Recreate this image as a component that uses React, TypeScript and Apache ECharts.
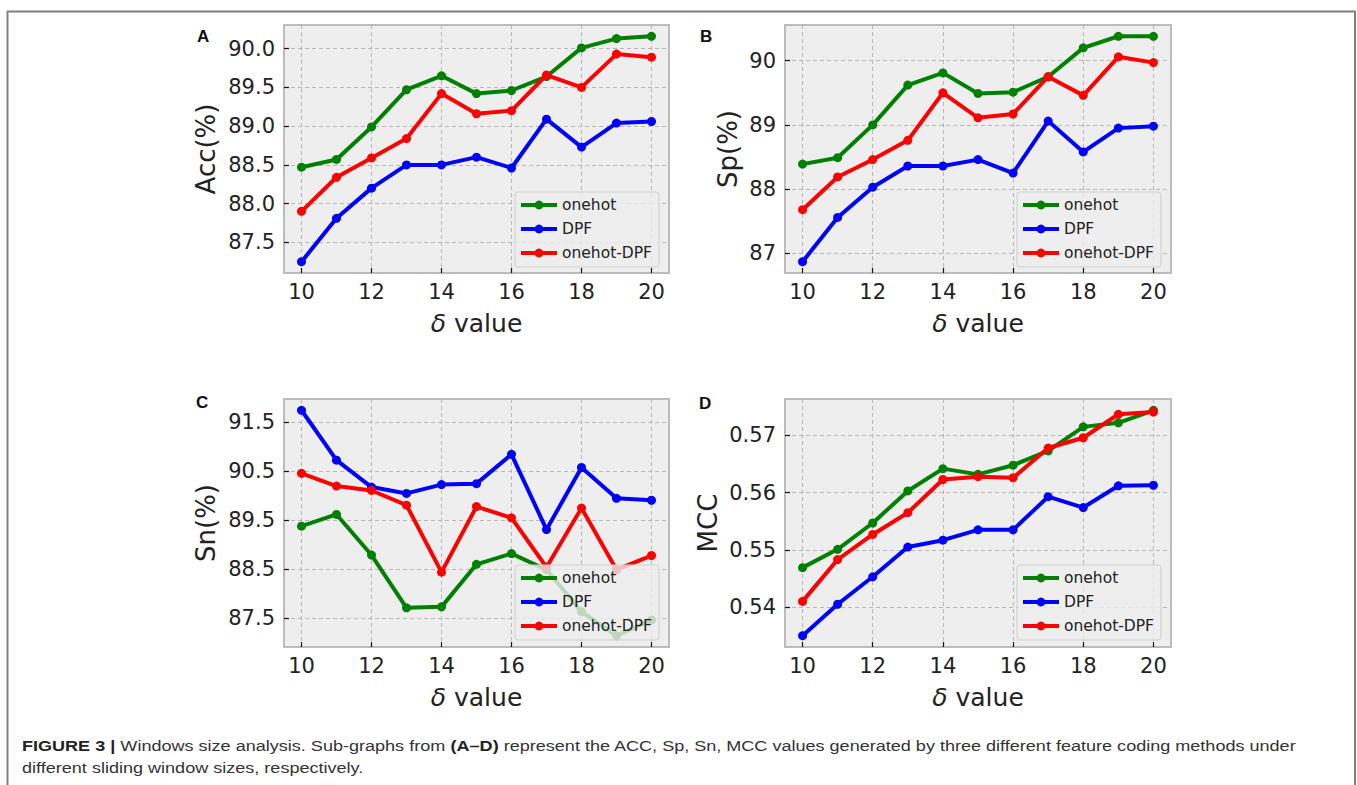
import React, { useEffect, useRef } from "react";
import * as echarts from "echarts";

const deltas = [10, 11, 12, 13, 14, 15, 16, 17, 18, 19, 20];
const seriesNames = ["onehot", "DPF", "onehot-DPF"];
const seriesColors = ["#008000", "#0000ff", "#ff0000"];

const accOnehot = [88.47, 88.57, 88.99, 89.47, 89.65, 89.42, 89.46, 89.64, 90.01, 90.13, 90.16];
const accDPF = [87.25, 87.81, 88.2, 88.5, 88.5, 88.6, 88.46, 89.09, 88.73, 89.04, 89.06];
const accOnehotDPF = [87.9, 88.34, 88.59, 88.84, 89.42, 89.16, 89.2, 89.66, 89.5, 89.93, 89.89];

const spOnehot = [88.39, 88.49, 89.0, 89.62, 89.81, 89.49, 89.51, 89.75, 90.2, 90.38, 90.38];
const spDPF = [86.87, 87.56, 88.03, 88.36, 88.36, 88.46, 88.25, 89.06, 88.58, 88.95, 88.98];
const spOnehotDPF = [87.68, 88.19, 88.46, 88.76, 89.5, 89.11, 89.17, 89.75, 89.46, 90.06, 89.97];

const snOnehot = [89.38, 89.62, 88.79, 87.71, 87.73, 88.6, 88.82, 88.49, 87.63, 87.14, 87.46];
const snDPF = [91.75, 90.73, 90.18, 90.05, 90.23, 90.25, 90.85, 89.31, 90.58, 89.95, 89.91];
const snOnehotDPF = [90.46, 90.2, 90.11, 89.81, 88.44, 89.78, 89.55, 88.54, 89.75, 88.49, 88.78];

const mccOnehot = [0.5469, 0.5501, 0.5547, 0.5603, 0.5642, 0.5632, 0.5648, 0.5673, 0.5715, 0.5722, 0.5744];
const mccDPF = [0.535, 0.5405, 0.5453, 0.5505, 0.5517, 0.5535, 0.5535, 0.5593, 0.5574, 0.5612, 0.5613];
const mccOnehotDPF = [0.541, 0.5483, 0.5527, 0.5565, 0.5623, 0.5628, 0.5626, 0.5678, 0.5696, 0.5737, 0.5741];

const xTicks = [10, 12, 14, 16, 18, 20];
const accTicks = [87.5, 88.0, 88.5, 89.0, 89.5, 90.0];
const spTicks = [87, 88, 89, 90];
const snTicks = [87.5, 88.5, 89.5, 90.5, 91.5];
const mccTicks = [0.54, 0.55, 0.56, 0.57];

const panelLetters = ["A", "B", "C", "D"];
const yNames = ["Acc(%)", "Sp(%)", "Sn(%)", "MCC"];
const xNameSymbol = "δ";
const xNameRest = " value";
const captionBold1 = "FIGURE 3 |";
const captionText1 = " Windows size analysis. Sub-graphs from ";
const captionBold2 = "(A–D)";
const captionText2 =
  " represent the ACC, Sp, Sn, MCC values generated by three different feature coding methods under";
const captionLine2 = "different sliding window sizes, respectively.";

const FONT = "'DejaVu Sans', sans-serif";
const CAP_FONT = "'Liberation Sans', Arial, sans-serif";

export default function App() {
  const ref = useRef<HTMLDivElement>(null);

  useEffect(() => {
    if (!ref.current) return;
    const chart = echarts.init(ref.current, null, { renderer: "svg" });

    const panels = [
      { data: [accOnehot, accDPF, accOnehotDPF], ticks: accTicks, dec: 1, grid: { left: 284, top: 25, width: 385, height: 248 }, gap: 65, legend: { left: 515, top: 192 }, letter: { x: 197, y: 36 } },
      { data: [spOnehot, spDPF, spOnehotDPF], ticks: spTicks, dec: 0, grid: { left: 785, top: 25, width: 386, height: 248 }, gap: 44, legend: { left: 1017, top: 192 }, letter: { x: 700, y: 36 } },
      { data: [snOnehot, snDPF, snOnehotDPF], ticks: snTicks, dec: 1, grid: { left: 284, top: 399, width: 385, height: 248 }, gap: 65, legend: { left: 515, top: 565 }, letter: { x: 196, y: 402 } },
      { data: [mccOnehot, mccDPF, mccOnehotDPF], ticks: mccTicks, dec: 2, grid: { left: 785, top: 399, width: 386, height: 248 }, gap: 64, legend: { left: 1017, top: 565 }, letter: { x: 699, y: 403 } },
    ];

    const grids: any[] = [];
    const xAxes: any[] = [];
    const yAxes: any[] = [];
    const series: any[] = [];
    const legends: any[] = [];
    const graphics: any[] = [];

    const splitLine = { show: true, lineStyle: { color: "#b0b0b0", type: [4, 3], width: 0.9 } };
    const axisTick = (vals: number[]) => ({ show: true, inside: true, length: 5, lineStyle: { color: "#111", width: 1.2 }, customValues: vals });

    panels.forEach((p, i) => {
      grids.push({ ...p.grid, show: true, backgroundColor: "#eeeeee", borderColor: "#bcbcbc", borderWidth: 2, containLabel: false });
      const all = p.data.flat();
      const lo = Math.min(...all);
      const hi = Math.max(...all);
      const pad = (hi - lo) * 0.05;
      xAxes.push({
        type: "value",
        gridIndex: i,
        min: 9.5,
        max: 20.5,
        axisLine: { show: false },
        axisTick: axisTick(xTicks),
        axisLabel: { customValues: xTicks, margin: 8, fontSize: 21, color: "#222", fontFamily: FONT },
        splitLine,
        name: `{i|${xNameSymbol}}${xNameRest}`,
        nameLocation: "middle",
        nameGap: 38,
        nameTextStyle: {
          fontSize: 25,
          color: "#222",
          fontFamily: FONT,
          rich: { i: { fontStyle: "italic", fontSize: 25, color: "#222", fontFamily: FONT } },
        },
      });
      yAxes.push({
        type: "value",
        gridIndex: i,
        min: lo - pad,
        max: hi + pad,
        axisLine: { show: false },
        axisTick: axisTick(p.ticks),
        axisLabel: { customValues: p.ticks, margin: 9, fontSize: 21, color: "#222", fontFamily: FONT, formatter: (v: number) => v.toFixed(p.dec) },
        splitLine,
        name: yNames[i],
        nameLocation: "middle",
        nameGap: p.gap,
        nameTextStyle: { fontSize: 26, color: "#222", fontFamily: FONT },
      });
      p.data.forEach((vals, k) => {
        series.push({
          type: "line",
          name: seriesNames[k],
          xAxisIndex: i,
          yAxisIndex: i,
          data: deltas.map((d, j) => [d, vals[j]]),
          symbol: "circle",
          symbolSize: 9,
          showSymbol: true,
          color: seriesColors[k],
          lineStyle: { width: 4, color: seriesColors[k] },
          itemStyle: { color: seriesColors[k] },
          z: 2 + k,
        });
      });
      legends.push({
        data: seriesNames,
        orient: "vertical",
        left: p.legend.left,
        top: p.legend.top,
        itemWidth: 36,
        itemHeight: 11,
        itemGap: 8,
        padding: [5, 7, 6, 4],
        backgroundColor: "rgba(238,238,238,0.8)",
        borderColor: "#cfcfcf",
        borderWidth: 1,
        borderRadius: 3,
        selectedMode: false,
        lineStyle: { width: 4 },
        z: 20,
        textStyle: { fontSize: 15.5, color: "#222", fontFamily: FONT },
      });
      graphics.push({
        type: "text",
        x: p.letter.x,
        y: p.letter.y,
        style: { text: panelLetters[i], fontSize: 17, fontWeight: "bold", fill: "#111", fontFamily: CAP_FONT, verticalAlign: "middle" },
      });
    });

    graphics.push({
      type: "rect",
      shape: { x: 7.5, y: 11.5, width: 1347.5, height: 800 },
      style: { fill: "none", stroke: "#808080", lineWidth: 2 },
      silent: true,
    });
    graphics.push({
      type: "text",
      x: 22,
      y: 735,
      scaleX: 1.165,
      style: {
        text: `{b|${captionBold1}}{n|${captionText1}}{b|${captionBold2}}{n|${captionText2}}\n{n|${captionLine2}}`,
        fontSize: 15.5,
        lineHeight: 22,
        fill: "#333",
        fontFamily: CAP_FONT,
        verticalAlign: "top",
        rich: {
          b: { fontWeight: "bold", fontSize: 15.5, fill: "#222", fontFamily: CAP_FONT, lineHeight: 22 },
          n: { fontSize: 15.5, fill: "#333", fontFamily: CAP_FONT, lineHeight: 22 },
        },
      },
    });

    chart.setOption({
      animation: false,
      backgroundColor: "#ffffff",
      grid: grids,
      xAxis: xAxes,
      yAxis: yAxes,
      series,
      legend: legends,
      graphic: graphics,
    });

    return () => chart.dispose();
  }, []);

  return <div ref={ref} style={{ position: "absolute", left: 0, top: 0, width: 1357, height: 785 }} />;
}
